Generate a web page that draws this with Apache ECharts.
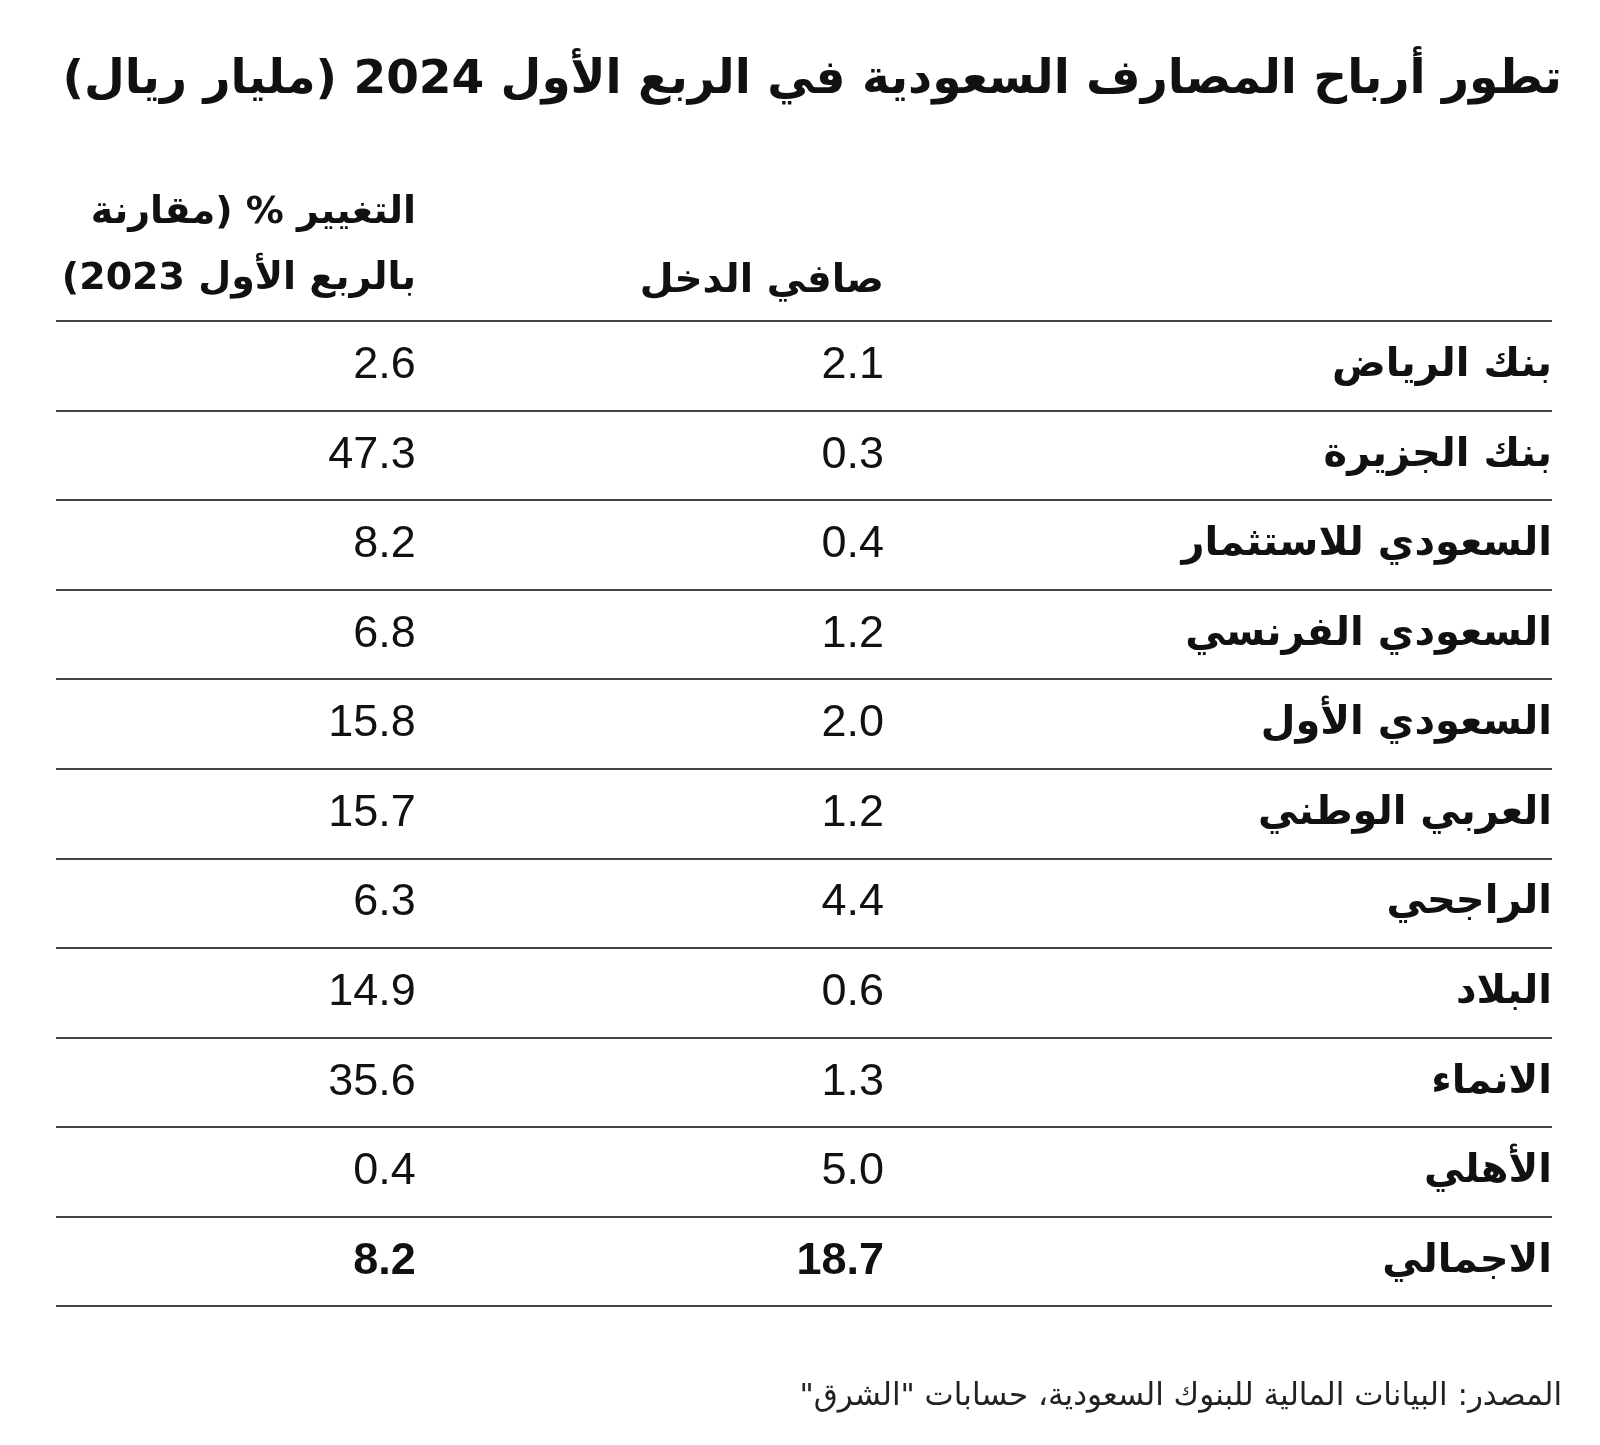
<!DOCTYPE html>
<html>
<head>
<meta charset="utf-8">
<script src="https://cdn.jsdelivr.net/npm/echarts@6/dist/echarts.min.js"></script>
<style>
html,body{margin:0;padding:0;background:#fff;}
#chart{width:1600px;height:1445px;direction:rtl;}
</style>
</head>
<body>
<div id="chart"></div>
<script>
// ---- data ----
const banks = ['بنك الرياض','بنك الجزيرة','السعودي للاستثمار','السعودي الفرنسي','السعودي الأول','العربي الوطني','الراجحي','البلاد','الانماء','الأهلي','الاجمالي'];
const netIncome = [2.1, 0.3, 0.4, 1.2, 2.0, 1.2, 4.4, 0.6, 1.3, 5.0, 18.7];
const changePct = [2.6, 47.3, 8.2, 6.8, 15.8, 15.7, 6.3, 14.9, 35.6, 0.4, 8.2];
const titleText = 'تطور أرباح المصارف السعودية في الربع الأول 2024 (مليار ريال)';
const headerNet = 'صافي الدخل';
const headerChangeLines = ['التغيير % (مقارنة', 'بالربع الأول 2023)'];
const sourceText = 'المصدر: البيانات المالية للبنوك السعودية، حسابات "الشرق"';

// ---- layout (column anchors as fraction of table width) ----
const COL = {change: 0.2405, net: 0.5535, name: 1.0};
const ARABIC = '"DejaVu Sans", sans-serif';
const NUM = '"Liberation Sans", Arial, sans-serif';
const INK = '#111';
const totalIdx = banks.length - 1;

function numData(arr, col) {
  return arr.map((v, i) => {
    const item = {value: [col, i, v]};
    if (i === totalIdx) item.label = {fontWeight: 'bold'};
    return item;
  });
}

const hdrStyle = {fontFamily: ARABIC, fontWeight: 'bold', fontSize: 39, color: INK};
const hdr2Style = {fontFamily: ARABIC, fontWeight: 'bold', fontSize: 38, color: INK};

const chart = echarts.init(document.getElementById('chart'), null, {renderer: 'canvas'});
chart.setOption({
  animation: false,
  backgroundColor: '#fff',
  title: [
    {text: titleText, right: 33, top: 52, textStyle: {fontFamily: ARABIC, fontWeight: 'bold', fontSize: 47, color: INK}},
    {text: headerChangeLines[0], right: 1600 - 421, top: 189, textStyle: hdr2Style},
    {text: headerChangeLines[1], right: 1600 - 421, top: 255, textStyle: hdr2Style},
    {text: headerNet, right: 1600 - 889, top: 257, textStyle: hdrStyle},
    {text: sourceText, right: 33, top: 1376, textStyle: {fontFamily: ARABIC, fontWeight: 'normal', fontSize: 31, color: '#222'}}
  ],
  grid: {left: 56, right: 48, top: 321, height: 985, containLabel: false},
  xAxis: {type: 'value', min: 0, max: 1, show: false},
  yAxis: {
    type: 'category', data: banks, inverse: true, boundaryGap: true,
    axisLine: {show: false}, axisTick: {show: false}, axisLabel: {show: false},
    splitLine: {show: true, lineStyle: {color: '#444', width: 2}}
  },
  series: [
    {
      type: 'scatter', symbolSize: 0, silent: true, itemStyle: {opacity: 1},
      data: banks.map((b, i) => ({value: [COL.name, i, b]})),
      label: {show: true, position: 'left', distance: 0, formatter: p => p.value[2],
        fontFamily: ARABIC, fontWeight: 'bold', fontSize: 40, color: INK, verticalAlign: 'middle'}
    },
    {
      type: 'scatter', symbolSize: 0, silent: true, itemStyle: {opacity: 1},
      data: numData(netIncome, COL.net),
      label: {show: true, position: 'left', distance: 0, formatter: p => p.value[2].toFixed(1),
        fontFamily: NUM, fontSize: 45, color: INK, verticalAlign: 'middle'}
    },
    {
      type: 'scatter', symbolSize: 0, silent: true, itemStyle: {opacity: 1},
      data: numData(changePct, COL.change),
      label: {show: true, position: 'left', distance: 0, formatter: p => p.value[2].toFixed(1),
        fontFamily: NUM, fontSize: 45, color: INK, verticalAlign: 'middle'}
    }
  ]
});
</script>
</body>
</html>
